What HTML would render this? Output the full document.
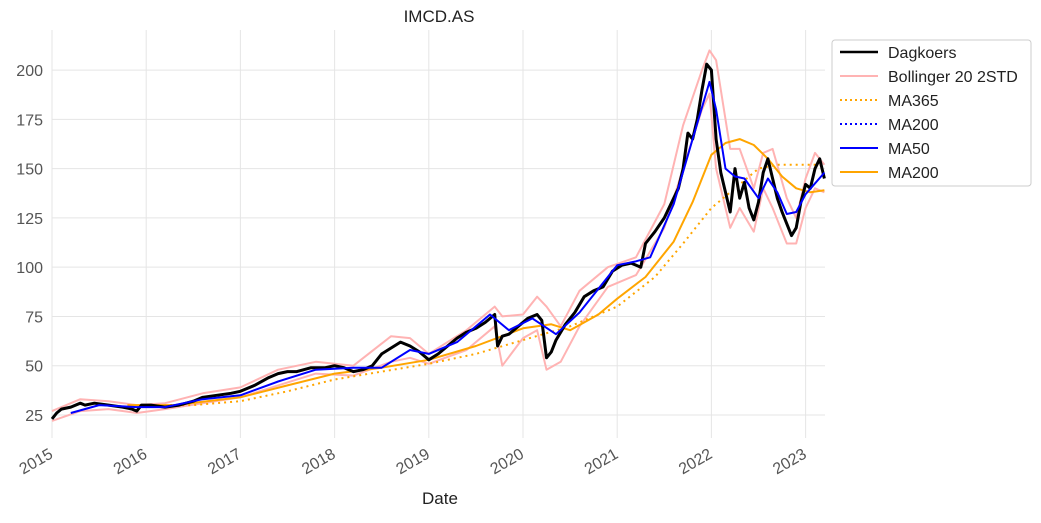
<!DOCTYPE html>
<html><head><meta charset="utf-8"><style>
body{margin:0;background:#fff;font-family:"Liberation Sans",Arial,sans-serif}
svg text{font-family:"Liberation Sans",Arial,sans-serif}
</style></head><body>
<svg id="chart" width="1041" height="518">
<text x="439" y="22" font-size="17" text-anchor="middle" fill="#222">IMCD.AS</text>
<g id="grid"></g><g id="series"></g><g id="axes"></g>
<text x="440" y="504" font-size="17" text-anchor="middle" fill="#222">Date</text>
<g>
<rect x="832" y="40" width="199" height="146" rx="3" fill="#fff" stroke="#ccc"/>
<g id="legend"></g></g>
</svg>
<script>
const priceT=[2015.0,2015.05,2015.1,2015.2,2015.3,2015.35,2015.45,2015.6,2015.75,2015.85,2015.9,2015.95,2016.05,2016.2,2016.35,2016.5,2016.6,2016.75,2016.9,2017.0,2017.15,2017.3,2017.4,2017.5,2017.6,2017.75,2017.9,2018.0,2018.1,2018.2,2018.3,2018.4,2018.5,2018.6,2018.7,2018.8,2018.9,2019.0,2019.1,2019.2,2019.3,2019.4,2019.5,2019.6,2019.7,2019.73,2019.78,2019.85,2019.95,2020.05,2020.15,2020.2,2020.25,2020.3,2020.35,2020.45,2020.55,2020.65,2020.75,2020.85,2020.95,2021.05,2021.15,2021.25,2021.3,2021.4,2021.5,2021.55,2021.65,2021.7,2021.75,2021.8,2021.85,2021.9,2021.95,2022.0,2022.05,2022.1,2022.15,2022.2,2022.25,2022.3,2022.35,2022.4,2022.45,2022.5,2022.55,2022.6,2022.65,2022.7,2022.75,2022.8,2022.85,2022.9,2022.95,2023.0,2023.05,2023.1,2023.15,2023.2];
const priceV=[23,26,28,29,31,30,31,30,29,28,27,30,30,29,30,32,34,35,36,37,40,44,46,47,47,49,49,50,49,47,48,50,56,59,62,60,57,53,56,60,64,67,69,72,76,60,65,66,70,74,76,73,54,57,63,71,77,85,88,90,98,101,102,100,112,118,125,130,140,150,168,165,175,190,203,200,165,148,138,128,150,135,143,130,124,133,148,155,145,135,128,122,116,120,133,142,140,150,155,145];
const bandT=[2015.0,2015.3,2015.6,2015.9,2016.2,2016.6,2017.0,2017.4,2017.8,2018.2,2018.6,2018.8,2019.0,2019.4,2019.7,2019.78,2020.0,2020.15,2020.25,2020.4,2020.6,2020.9,2021.2,2021.5,2021.7,2021.9,2021.98,2022.05,2022.2,2022.3,2022.45,2022.55,2022.65,2022.8,2022.9,2023.0,2023.1,2023.2];
const upperV=[27,33,32,30,31,36,39,48,52,50,65,64,56,68,80,75,76,85,80,70,88,100,105,132,172,200,210,205,160,160,140,158,160,135,125,145,158,152];
const lowerV=[22,27,28,26,28,31,34,40,46,45,52,54,51,58,70,50,64,68,48,52,70,90,96,120,150,180,188,150,120,130,118,140,130,112,112,130,140,138];
const ma50T=[2015.2,2015.5,2015.9,2016.2,2016.6,2017.0,2017.4,2017.8,2018.2,2018.5,2018.8,2019.0,2019.3,2019.65,2019.85,2020.1,2020.35,2020.6,2020.9,2021.0,2021.2,2021.35,2021.6,2021.8,2021.98,2022.05,2022.15,2022.25,2022.35,2022.5,2022.6,2022.7,2022.8,2022.9,2023.0,2023.2];
const ma50V=[26,30,29,29,33,35,42,48,49,49,58,56,62,76,68,74,66,77,95,101,103,105,132,165,194,180,150,146,145,135,145,138,127,128,137,148];
const ma200T=[2015.8,2016.3,2017.0,2017.5,2018.0,2018.5,2019.0,2019.5,2020.0,2020.3,2020.5,2020.8,2021.0,2021.3,2021.6,2021.8,2022.0,2022.15,2022.3,2022.45,2022.6,2022.75,2022.9,2023.05,2023.2];
const ma200V=[30,30,34,40,46,49,53,60,69,71,68,76,84,95,113,133,157,163,165,162,155,146,140,138,139];
const ma365T=[2016.0,2016.5,2017.0,2017.5,2018.0,2018.5,2019.0,2019.5,2020.0,2020.5,2021.0,2021.4,2021.7,2022.0,2022.3,2022.5,2022.7,2023.0,2023.2];
const ma365V=[30,30,32,37,43,47,51,56,63,70,80,95,112,130,142,150,152,152,152];
const yTicks=[25,50,75,100,125,150,175,200];
const xTicks=[2015,2016,2017,2018,2019,2020,2021,2022,2023];
const X0=52,X1=825,Y0=30,Y1=438;
const x=t=>52+(t-2015)*94.2;
const y=v=>415-(v-25)*1.971;
const NS="http://www.w3.org/2000/svg";
function mk(tag,attrs,parent){const e=document.createElementNS(NS,tag);for(const k in attrs)e.setAttribute(k,attrs[k]);parent.appendChild(e);return e;}
const grid=document.getElementById('grid'),axes=document.getElementById('axes'),ser=document.getElementById('series');
yTicks.forEach(v=>{
 const l=mk('line',{x1:X0,x2:X1,y1:y(v),y2:y(v),stroke:'#e5e5e5'},grid);
 
 
 const t=mk('text',{x:43,y:y(v)+6,'font-size':16,'text-anchor':'end',fill:'#555'},axes);
 t.textContent=v;
 
 
});
xTicks.forEach(v=>{
 const l=mk('line',{x1:x(v),x2:x(v),y1:Y0,y2:Y1,stroke:'#e5e5e5'},grid);
 
 
 const t=mk('text',{x:x(v)+2,y:457,'font-size':16,'text-anchor':'end',fill:'#555',transform:`rotate(-30 ${x(v)+2} 457)`},axes);
 t.textContent=v;
 
 
});
function line(T,V,attrs,name){
 const p=mk('polyline',Object.assign({points:T.map((t,i)=>x(t).toFixed(1)+','+y(V[i]).toFixed(1)).join(' '),fill:'none','stroke-linejoin':'round'},attrs),ser);
 
 
}
line(bandT,upperV,{stroke:'#ffb3b3','stroke-width':2},'bollinger-upper-band');
line(bandT,lowerV,{stroke:'#ffb3b3','stroke-width':2},'bollinger-lower-band');
line(ma365T,ma365V,{stroke:'orange','stroke-width':2,'stroke-dasharray':'2,4'},'ma365-line');
line(ma200T,ma200V,{stroke:'orange','stroke-width':2},'ma200-line');
line(priceT,priceV,{stroke:'#000','stroke-width':3},'price-line');
line(ma50T,ma50V,{stroke:'#0000ff','stroke-width':2},'ma50-line');
const leg=[['Dagkoers','#000',2.5,''],['Bollinger 20 2STD','#ffb3b3',2,''],['MA365','orange',2,'2,3'],['MA200','#0000ff',2,'2,3'],['MA50','#0000ff',2,''],['MA200','orange',2,'']];
const lg=document.getElementById('legend');
leg.forEach((e,i)=>{
 const yy=52+i*24;
 const g=mk('g',{},lg);
 
 
 const a={x1:840,x2:878,y1:yy,y2:yy,stroke:e[1],'stroke-width':e[2]};
 if(e[3])a['stroke-dasharray']=e[3];
 mk('line',a,g);
 const t=mk('text',{x:888,y:yy+6,'font-size':16,fill:'#222'},g);
 t.textContent=e[0];
});
</script>
</body></html>
